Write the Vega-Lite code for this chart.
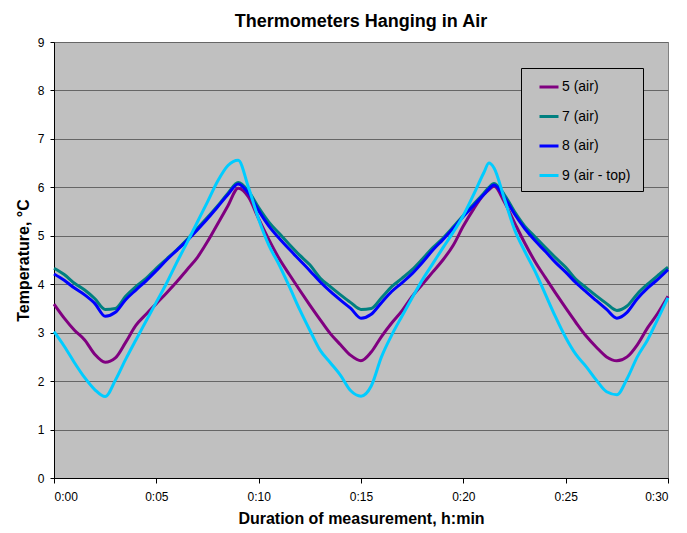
{
  "$schema": "https://vega.github.io/schema/vega-lite/v6.json",
  "width": 614,
  "height": 436,
  "autosize": {"type": "none"},
  "padding": {"left": 54, "top": 42, "right": 19, "bottom": 55},
  "background": "white",
  "title": {
    "text": "Thermometers Hanging in Air",
    "font": "Liberation Sans",
    "fontSize": 18,
    "fontWeight": "bold",
    "color": "black",
    "anchor": "middle",
    "offset": 5
  },
  "data": {
    "values": [
      {"m": 0, "5 (air)": 3.59, "7 (air)": 4.33, "8 (air)": 4.21, "9 (air  - top)": 3.02},
      {"m": 0.5, "5 (air)": 3.3, "7 (air)": 4.2, "8 (air)": 4.08, "9 (air  - top)": 2.72},
      {"m": 1, "5 (air)": 3.05, "7 (air)": 4.02, "8 (air)": 3.92, "9 (air  - top)": 2.38},
      {"m": 1.5, "5 (air)": 2.85, "7 (air)": 3.88, "8 (air)": 3.78, "9 (air  - top)": 2.07},
      {"m": 2, "5 (air)": 2.55, "7 (air)": 3.7, "8 (air)": 3.6, "9 (air  - top)": 1.82},
      {"m": 2.5, "5 (air)": 2.39, "7 (air)": 3.48, "8 (air)": 3.34, "9 (air  - top)": 1.68},
      {"m": 3, "5 (air)": 2.48, "7 (air)": 3.5, "8 (air)": 3.42, "9 (air  - top)": 2.02},
      {"m": 3.5, "5 (air)": 2.8, "7 (air)": 3.75, "8 (air)": 3.68, "9 (air  - top)": 2.45},
      {"m": 4, "5 (air)": 3.15, "7 (air)": 3.95, "8 (air)": 3.88, "9 (air  - top)": 2.85},
      {"m": 4.5, "5 (air)": 3.38, "7 (air)": 4.12, "8 (air)": 4.07, "9 (air  - top)": 3.24},
      {"m": 5, "5 (air)": 3.6, "7 (air)": 4.33, "8 (air)": 4.28, "9 (air  - top)": 3.63},
      {"m": 5.5, "5 (air)": 3.82, "7 (air)": 4.52, "8 (air)": 4.5, "9 (air  - top)": 4.02},
      {"m": 6, "5 (air)": 4.05, "7 (air)": 4.71, "8 (air)": 4.7, "9 (air  - top)": 4.45},
      {"m": 6.5, "5 (air)": 4.3, "7 (air)": 4.92, "8 (air)": 4.9, "9 (air  - top)": 4.86},
      {"m": 7, "5 (air)": 4.55, "7 (air)": 5.15, "8 (air)": 5.12, "9 (air  - top)": 5.28},
      {"m": 7.5, "5 (air)": 4.88, "7 (air)": 5.38, "8 (air)": 5.35, "9 (air  - top)": 5.7},
      {"m": 8, "5 (air)": 5.25, "7 (air)": 5.62, "8 (air)": 5.6, "9 (air  - top)": 6.13},
      {"m": 8.5, "5 (air)": 5.62, "7 (air)": 5.88, "8 (air)": 5.85, "9 (air  - top)": 6.45},
      {"m": 9, "5 (air)": 5.98, "7 (air)": 6.1, "8 (air)": 6.07, "9 (air  - top)": 6.56},
      {"m": 9.5, "5 (air)": 5.8, "7 (air)": 5.92, "8 (air)": 5.88, "9 (air  - top)": 6.0},
      {"m": 10, "5 (air)": 5.35, "7 (air)": 5.58, "8 (air)": 5.52, "9 (air  - top)": 5.34},
      {"m": 10.5, "5 (air)": 4.92, "7 (air)": 5.28, "8 (air)": 5.2, "9 (air  - top)": 4.8},
      {"m": 11, "5 (air)": 4.53, "7 (air)": 5.05, "8 (air)": 4.95, "9 (air  - top)": 4.4},
      {"m": 11.5, "5 (air)": 4.2, "7 (air)": 4.82, "8 (air)": 4.72, "9 (air  - top)": 3.95},
      {"m": 12, "5 (air)": 3.88, "7 (air)": 4.6, "8 (air)": 4.5, "9 (air  - top)": 3.48},
      {"m": 12.5, "5 (air)": 3.57, "7 (air)": 4.4, "8 (air)": 4.28, "9 (air  - top)": 3.05},
      {"m": 13, "5 (air)": 3.27, "7 (air)": 4.13, "8 (air)": 4.05, "9 (air  - top)": 2.64},
      {"m": 13.5, "5 (air)": 2.98, "7 (air)": 3.95, "8 (air)": 3.85, "9 (air  - top)": 2.38},
      {"m": 14, "5 (air)": 2.75, "7 (air)": 3.78, "8 (air)": 3.67, "9 (air  - top)": 2.12},
      {"m": 14.5, "5 (air)": 2.53, "7 (air)": 3.62, "8 (air)": 3.5, "9 (air  - top)": 1.8},
      {"m": 15, "5 (air)": 2.42, "7 (air)": 3.48, "8 (air)": 3.3, "9 (air  - top)": 1.69},
      {"m": 15.5, "5 (air)": 2.6, "7 (air)": 3.5, "8 (air)": 3.38, "9 (air  - top)": 1.9},
      {"m": 16, "5 (air)": 2.92, "7 (air)": 3.72, "8 (air)": 3.62, "9 (air  - top)": 2.5},
      {"m": 16.5, "5 (air)": 3.2, "7 (air)": 3.95, "8 (air)": 3.85, "9 (air  - top)": 2.95},
      {"m": 17, "5 (air)": 3.45, "7 (air)": 4.12, "8 (air)": 4.03, "9 (air  - top)": 3.34},
      {"m": 17.5, "5 (air)": 3.75, "7 (air)": 4.3, "8 (air)": 4.22, "9 (air  - top)": 3.72},
      {"m": 18, "5 (air)": 4.0, "7 (air)": 4.52, "8 (air)": 4.45, "9 (air  - top)": 4.09},
      {"m": 18.5, "5 (air)": 4.25, "7 (air)": 4.75, "8 (air)": 4.7, "9 (air  - top)": 4.42},
      {"m": 19, "5 (air)": 4.5, "7 (air)": 4.95, "8 (air)": 4.92, "9 (air  - top)": 4.75},
      {"m": 19.5, "5 (air)": 4.8, "7 (air)": 5.18, "8 (air)": 5.15, "9 (air  - top)": 5.07},
      {"m": 20, "5 (air)": 5.2, "7 (air)": 5.42, "8 (air)": 5.4, "9 (air  - top)": 5.42},
      {"m": 20.5, "5 (air)": 5.55, "7 (air)": 5.65, "8 (air)": 5.62, "9 (air  - top)": 5.85},
      {"m": 21, "5 (air)": 5.85, "7 (air)": 5.88, "8 (air)": 5.85, "9 (air  - top)": 6.3},
      {"m": 21.25, "5 (air)": 5.95, "7 (air)": 6.0, "8 (air)": 5.97, "9 (air  - top)": 6.5},
      {"m": 21.5, "5 (air)": 6.02, "7 (air)": 6.08, "8 (air)": 6.05, "9 (air  - top)": 6.4},
      {"m": 22, "5 (air)": 5.7, "7 (air)": 5.85, "8 (air)": 5.8, "9 (air  - top)": 5.77},
      {"m": 22.5, "5 (air)": 5.27, "7 (air)": 5.5, "8 (air)": 5.45, "9 (air  - top)": 5.13},
      {"m": 23, "5 (air)": 4.85, "7 (air)": 5.2, "8 (air)": 5.15, "9 (air  - top)": 4.68},
      {"m": 23.5, "5 (air)": 4.47, "7 (air)": 4.98, "8 (air)": 4.9, "9 (air  - top)": 4.27},
      {"m": 24, "5 (air)": 4.14, "7 (air)": 4.76, "8 (air)": 4.68, "9 (air  - top)": 3.8},
      {"m": 24.5, "5 (air)": 3.82, "7 (air)": 4.55, "8 (air)": 4.45, "9 (air  - top)": 3.33},
      {"m": 25, "5 (air)": 3.51, "7 (air)": 4.35, "8 (air)": 4.25, "9 (air  - top)": 2.9},
      {"m": 25.5, "5 (air)": 3.21, "7 (air)": 4.1, "8 (air)": 4.03, "9 (air  - top)": 2.55},
      {"m": 26, "5 (air)": 2.93, "7 (air)": 3.93, "8 (air)": 3.84, "9 (air  - top)": 2.3},
      {"m": 26.5, "5 (air)": 2.7, "7 (air)": 3.76, "8 (air)": 3.66, "9 (air  - top)": 2.02},
      {"m": 27, "5 (air)": 2.5, "7 (air)": 3.6, "8 (air)": 3.48, "9 (air  - top)": 1.78},
      {"m": 27.5, "5 (air)": 2.42, "7 (air)": 3.46, "8 (air)": 3.3, "9 (air  - top)": 1.72},
      {"m": 28, "5 (air)": 2.5, "7 (air)": 3.55, "8 (air)": 3.42, "9 (air  - top)": 2.05},
      {"m": 28.5, "5 (air)": 2.75, "7 (air)": 3.8, "8 (air)": 3.7, "9 (air  - top)": 2.5},
      {"m": 29, "5 (air)": 3.1, "7 (air)": 4.0, "8 (air)": 3.92, "9 (air  - top)": 2.85},
      {"m": 29.5, "5 (air)": 3.4, "7 (air)": 4.18, "8 (air)": 4.1, "9 (air  - top)": 3.28},
      {"m": 30, "5 (air)": 3.75, "7 (air)": 4.35, "8 (air)": 4.3, "9 (air  - top)": 3.72}
    ]
  },
  "transform": [
    {"fold": ["5 (air)", "7 (air)", "8 (air)", "9 (air  - top)"], "as": ["series", "temp"]}
  ],
  "mark": {"type": "line", "strokeWidth": 3, "strokeJoin": "round", "strokeCap": "butt", "interpolate": "monotone"},
  "encoding": {
    "x": {
      "field": "m",
      "type": "quantitative",
      "scale": {"domain": [0, 30], "nice": false, "zero": false},
      "axis": {
        "title": "Duration of measurement, h:min",
        "values": [0, 5, 10, 15, 20, 25, 30],
        "labelExpr": "'0:' + (datum.value < 10 ? '0' : '') + datum.value",
        "grid": false,
        "tickSize": 5,
        "labelPadding": 8,
        "titlePadding": 8
      }
    },
    "y": {
      "field": "temp",
      "type": "quantitative",
      "scale": {"domain": [0, 9], "nice": false},
      "axis": {
        "title": "Temperature, °C",
        "values": [0, 1, 2, 3, 4, 5, 6, 7, 8, 9],
        "grid": true,
        "gridColor": "#666666",
        "gridWidth": 1,
        "gridOpacity": 1,
        "tickSize": 4,
        "labelPadding": 6,
        "titlePadding": 6
      }
    },
    "color": {
      "field": "series",
      "type": "nominal",
      "scale": {
        "domain": ["5 (air)", "7 (air)", "8 (air)", "9 (air  - top)"],
        "range": ["#800080", "#008080", "#0000FF", "#00CCFF"]
      },
      "legend": {
        "title": null,
        "orient": "none",
        "legendX": 467,
        "legendY": 26,
        "fillColor": "#C0C0C0",
        "strokeColor": "black",
        "padding": 8,
        "symbolType": "stroke",
        "symbolSize": 361,
        "symbolStrokeWidth": 3,
        "symbolOffset": 9,
        "labelFontSize": 14,
        "labelFont": "Liberation Sans",
        "labelColor": "black",
        "labelOffset": 2,
        "rowPadding": 11.5
      }
    }
  },
  "config": {
    "view": {"fill": "#C0C0C0", "stroke": "#808080", "strokeWidth": 1},
    "axis": {
      "labelFont": "Liberation Sans",
      "labelFontSize": 12,
      "labelColor": "black",
      "titleFont": "Liberation Sans",
      "titleFontSize": 16,
      "titleFontWeight": "bold",
      "titleColor": "black",
      "domainColor": "black",
      "tickColor": "black",
      "domainWidth": 1,
      "tickWidth": 1
    }
  }
}
